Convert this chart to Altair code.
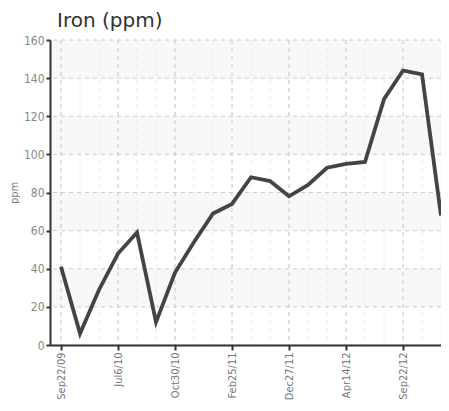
import altair as alt
import pandas as pd

# data
idx = list(range(21))
iron = [41, 6, 29, 48, 59, 12, 38, 54, 69, 74, 88, 86, 78, 84, 93, 95, 96, 129, 144, 142, 68]
labels = ["Sep22/09", "", "", "Jul6/10", "", "", "Oct30/10", "", "", "Feb25/11", "", "",
          "Dec27/11", "", "", "Apr14/12", "", "", "Sep22/12", "", ""]
major_x = list(range(0, 21, 3))
y_ticks = list(range(0, 161, 20))
band_lo = [20, 60, 100, 140]
band_hi = [40, 80, 120, 160]

W, H = 391, 305

df = pd.DataFrame({"i": idx, "v": iron})
bands = pd.DataFrame({"v": band_lo, "v2": band_hi})
minor = pd.DataFrame({"i": idx})
majorx = pd.DataFrame({"i": major_x})
hgrid = pd.DataFrame({"v": y_ticks})

label_js = "[" + ",".join("'" + s + "'" for s in labels) + "]"
xscale = alt.Scale(domain=[-0.58, 20.0], nice=False, zero=False)
yscale = alt.Scale(domain=[0, 160], nice=False)

FONT = "'DejaVu Sans Condensed', 'Liberation Sans Narrow', 'Roboto', sans-serif"

xaxis = alt.Axis(values=major_x, labelExpr=label_js + "[datum.value]",
                 labelAngle=-90, title=None, grid=False, zindex=1,
                 domainColor="#333333", domainWidth=2, labelOverlap=False,
                 tickColor="#333333", tickWidth=2, tickSize=5,
                 labelColor="#777777", labelFont=FONT, labelFontSize=11,
                 labelPadding=2)
yaxis = alt.Axis(values=y_ticks, title="ppm", grid=False, zindex=1,
                 domainColor="#333333", labelOverlap=False,
                 domainWidth=2, tickColor="#333333", tickWidth=2, tickSize=4,
                 labelColor="#888888", labelFont=FONT, labelFontSize=12,
                 labelPadding=2, titleFont=FONT, titleFontSize=11,
                 titleColor="#777777", titleFontWeight="normal", titlePadding=4)

X = alt.X("i:Q", scale=xscale, axis=xaxis)
Y = alt.Y("v:Q", scale=yscale, axis=yaxis)

band_layer = alt.Chart(bands).mark_rect(color="#f8f8f8").encode(
    x=alt.value(0), x2=alt.value(W), y=Y, y2="v2:Q",
)
minor_layer = alt.Chart(minor).mark_rule(color="#ececec", strokeDash=[4, 4], strokeWidth=1).encode(
    x=X,
)
vmajor_layer = alt.Chart(majorx).mark_rule(color="#cccccc", strokeDash=[4, 4], strokeWidth=1).encode(
    x=X,
)
hgrid_layer = alt.Chart(hgrid).mark_rule(color="#cccccc", strokeDash=[4, 4], strokeWidth=1).encode(
    y=Y,
)
line = alt.Chart(df).mark_line(color="#444444", strokeWidth=3.8, strokeJoin="miter").encode(
    x=X, y=Y,
)

chart = alt.layer(band_layer, minor_layer, vmajor_layer, hgrid_layer, line).properties(
    width=W, height=H,
    title=alt.TitleParams("Iron (ppm)", anchor="start", frame="group", font="DejaVu Sans",
                          fontSize=20, fontWeight="normal", color="#333333", dx=7, offset=3),
    padding={"left": 42, "top": 32, "right": 0, "bottom": 58},
    autosize=alt.AutoSizeParams(type="none"),
).configure_view(stroke=None)

chart.save("out.html", embed_options={"renderer": "svg", "actions": False})
